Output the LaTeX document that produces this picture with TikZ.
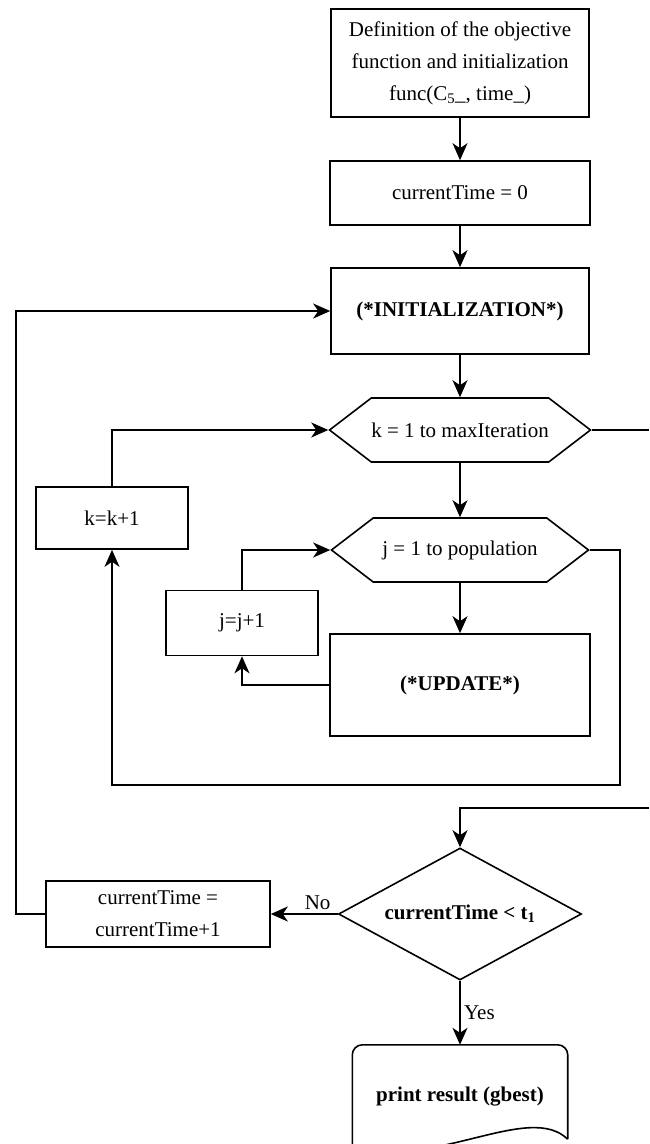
\documentclass[tikz,border=0pt]{standalone}
\usepackage{fontspec}
\setmainfont{Liberation Serif}
\usetikzlibrary{arrows.meta, shapes.geometric, shapes.symbols, calc}

\begin{document}
\begin{tikzpicture}[x=1pt, y=-1pt,
        font=\fontsize{21}{32}\selectfont,
        line/.style={line width=1.6pt},
        arrow/.style={line, -{Stealth[length=17pt, width=15pt, inset=5pt]}},
        block/.style={draw, line, rectangle, align=center, inner sep=0pt},
        loopbox/.style={draw, line, signal, signal to=west and east, signal pointer angle=75, inner sep=0pt, minimum width=257pt, minimum height=64pt},
        cond/.style={draw, line, diamond, aspect=1.84, inner sep=0pt, minimum width=243pt, minimum height=132pt}]

        \useasboundingbox (0,0) rectangle (649,1144);

        % Draw the main blocks
        \node[block, minimum width=258pt, minimum height=108pt] (define) at (460,63) {Definition of the objective\\function and initialization\\func(C\textsubscript{5}\_, time\_)};
        \node[block, minimum width=260pt, minimum height=64pt] (time0) at (460,193) {currentTime = 0};
        \node[block, minimum width=258pt, minimum height=86pt] (init) at (460,311) {\textbf{(*INITIALIZATION*)}};
        \node[loopbox] (kloop) at (460,430) {k = 1 to maxIteration};
        \node[loopbox] (jloop) at (460,550) {j = 1 to population};
        \node[block, minimum width=260pt, minimum height=102pt] (update) at (460,685) {\textbf{(*UPDATE*)}};

        % Draw the counters
        \node[block, minimum width=152pt, minimum height=62pt] (kinc) at (112,518) {k=k+1};
        \node[block, minimum width=152pt, minimum height=65pt] (jinc) at (242,623) {j=j+1};
        \node[block, minimum width=224pt, minimum height=66pt] (tinc) at (158,914) {currentTime =\\currentTime+1};

        % Draw the test and the output
        \node[cond] (check) at (460,914) {\textbf{currentTime < t\textsubscript{1}}};
        \node[minimum width=215pt, minimum height=104pt, inner sep=0pt] (result) at (460,1097) {\textbf{print result (gbest)}};
        \draw[line, rounded corners=10pt] (result.south west) -- (result.north west) -- (result.north east) -- ($(result.south east)+(0,-10)$);
        \draw[line] ($(result.south east)+(0,-10)$) .. controls +(-38,-37) and +(87,18) .. (result.south west);

        % Draw the main flow
        \draw[arrow] (define) -- (time0);
        \draw[arrow] (time0) -- (init);
        \draw[arrow] (init) -- (kloop);
        \draw[arrow] (kloop) -- (jloop);
        \draw[arrow] (jloop) -- (update);

        % Draw the inner loop
        \draw[arrow] (update.west) -| (jinc.south);
        \draw[arrow] (jinc.north) |- (jloop.west);

        % Draw the outer loop
        \coordinate (jexit) at (620,785);
        \draw[arrow] (jloop.east) -| (jexit) -| (kinc.south);
        \draw[arrow] (kinc.north) |- (kloop.west);

        % Draw the time loop
        \coordinate (kexit) at (649,430);
        \coordinate (kback) at (649,808);
        \draw[line] (kloop.east) -- (kexit);
        \draw[arrow] (kback) -| (check.north);
        \draw[arrow] (check.west) -- node[above, pos=0.3] {No} (tinc.east);
        \coordinate (tback) at (16,600);
        \draw[arrow] (tinc.west) -| (tback) |- (init.west);
        \draw[arrow] (check.south) -- node[right, pos=0.5] {Yes} (result.north);

    \end{tikzpicture}
\end{document}
